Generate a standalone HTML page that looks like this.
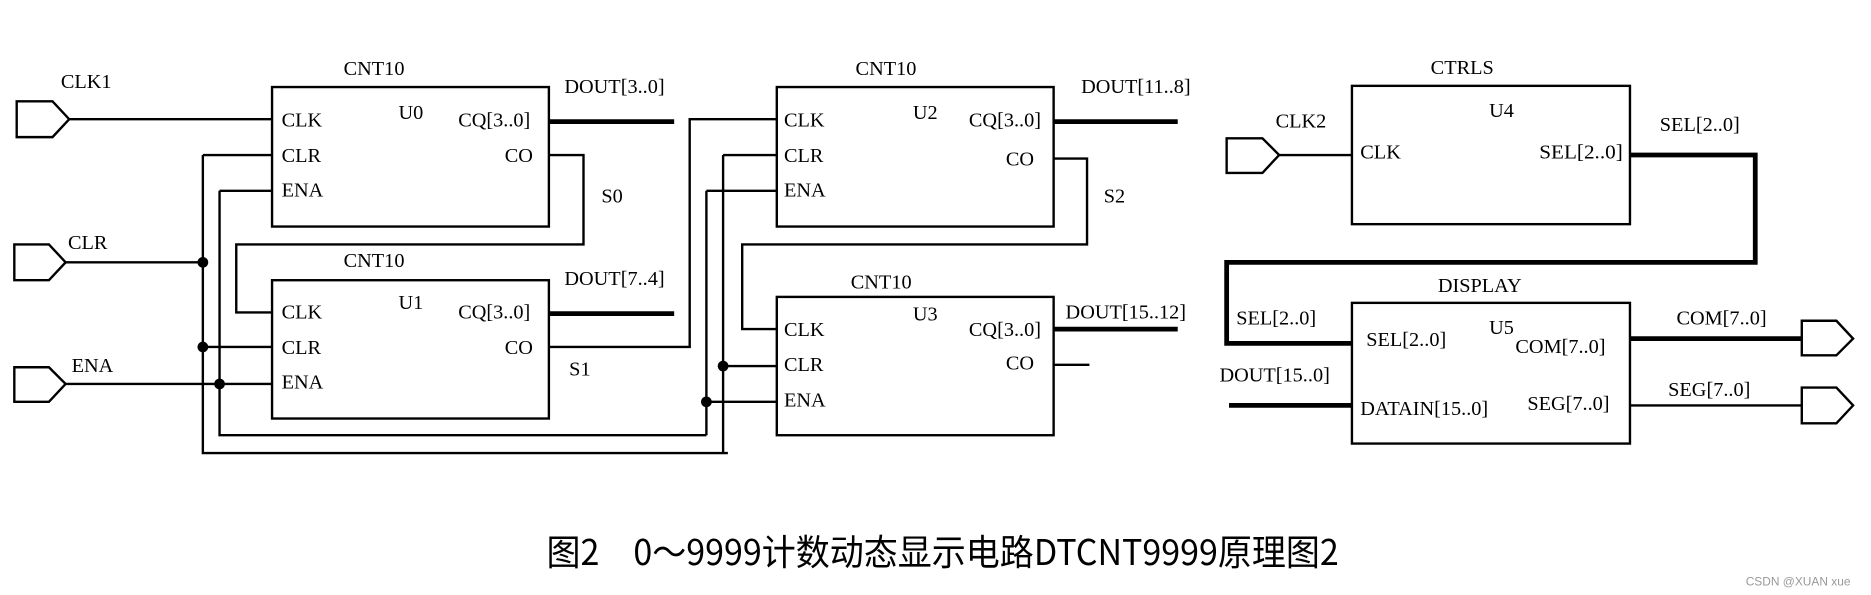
<!DOCTYPE html>
<html><head><meta charset="utf-8"><style>html,body{margin:0;padding:0;background:#fff}svg{display:block}</style></head><body>
<svg width="1871" height="595" viewBox="0 0 1568 499" preserveAspectRatio="none" xmlns="http://www.w3.org/2000/svg">
<g fill="none" stroke="#000" stroke-width="2">
<rect x="228" y="73" width="232" height="117"/>
<rect x="228" y="235" width="232" height="116"/>
<rect x="651" y="73" width="232" height="117"/>
<rect x="651" y="249" width="232" height="116"/>
<rect x="1133" y="72" width="233" height="116"/>
<rect x="1133" y="254" width="233" height="118"/>
<path d="M14 85 H44 L58 100 L44 115 H14 Z"/>
<path d="M12 205 H41 L55 220 L41 235 H12 Z"/>
<path d="M12 308 H41 L55 322 L41 337 H12 Z"/>
<path d="M1028 116 H1058 L1072 130 L1058 145 H1028 Z"/>
<path d="M1510 269 H1539 L1553 284 L1539 298 H1510 Z"/>
<path d="M1510 325 H1539 L1553 340 L1539 355 H1510 Z"/>
<path d="M58 100 H228"/>
<path d="M55 220 H170"/>
<path d="M55 322 H228"/>
<path d="M170 130 V380 H610"/>
<path d="M170 130 H228 M170 291 H228"/>
<path d="M184 160 V365 H592"/>
<path d="M184 160 H228"/>
<path d="M460 130 H489 V205 H198 V262 H228"/>
<path d="M460 291 H578 V100 H651"/>
<path d="M592 160 V365 M592 160 H651 M592 337 H651"/>
<path d="M606 130 V380 M606 130 H651 M606 307 H651"/>
<path d="M883 133 H911 V205 H622 V276 H651"/>
<path d="M883 306 H913"/>
<path d="M1072 130 H1133"/>
<path d="M1366 340 H1510"/>
</g>
<g fill="none" stroke="#000" stroke-width="4">
<path d="M460 102 H565 M460 263 H565 M883 102 H987 M883 276 H987"/>
<path d="M1366 130 H1471 V220 H1028 V288 H1133"/>
<path d="M1030 340 H1133"/>
<path d="M1366 284 H1510"/>
</g>
<g fill="#000">
<circle cx="170" cy="220" r="4.5"/><circle cx="170" cy="291" r="4.5"/><circle cx="184" cy="322" r="4.5"/>
<circle cx="592" cy="337" r="4.5"/><circle cx="606" cy="307" r="4.5"/>
</g>
<g font-family="Liberation Serif, serif" font-size="17" fill="#000">
<text x="51" y="74">CLK1</text><text x="57" y="209">CLR</text><text x="60" y="312">ENA</text>
<text x="288" y="63">CNT10</text><text x="334" y="100">U0</text>
<text x="236" y="106">CLK</text><text x="236" y="136">CLR</text><text x="236" y="165">ENA</text>
<text x="384" y="106">CQ[3..0]</text><text x="423" y="136">CO</text>
<text x="473" y="78">DOUT[3..0]</text><text x="504" y="170">S0</text>
<text x="288" y="224">CNT10</text><text x="334" y="259">U1</text>
<text x="236" y="267">CLK</text><text x="236" y="297">CLR</text><text x="236" y="326">ENA</text>
<text x="384" y="267">CQ[3..0]</text><text x="423" y="297">CO</text>
<text x="473" y="239">DOUT[7..4]</text><text x="477" y="315">S1</text>
<text x="717" y="63">CNT10</text><text x="765" y="100">U2</text>
<text x="657" y="106">CLK</text><text x="657" y="136">CLR</text><text x="657" y="165">ENA</text>
<text x="812" y="106">CQ[3..0]</text><text x="843" y="139">CO</text>
<text x="906" y="78">DOUT[11..8]</text><text x="925" y="170">S2</text>
<text x="713" y="242">CNT10</text><text x="765" y="269">U3</text>
<text x="657" y="282">CLK</text><text x="657" y="311">CLR</text><text x="657" y="341">ENA</text>
<text x="812" y="282">CQ[3..0]</text><text x="843" y="310">CO</text>
<text x="893" y="267">DOUT[15..12]</text>
<text x="1199" y="62">CTRLS</text><text x="1248" y="98">U4</text>
<text x="1069" y="107">CLK2</text>
<text x="1140" y="133">CLK</text><text x="1290" y="133" textLength="70" lengthAdjust="spacingAndGlyphs">SEL[2..0]</text>
<text x="1391" y="110">SEL[2..0]</text>
<text x="1205" y="245">DISPLAY</text>
<text x="1036" y="272">SEL[2..0]</text>
<text x="1145" y="290">SEL[2..0]</text><text x="1248" y="280">U5</text><text x="1270" y="296">COM[7..0]</text>
<text x="1022" y="320">DOUT[15..0]</text>
<text x="1140" y="348">DATAIN[15..0]</text><text x="1280" y="344">SEG[7..0]</text>
<text x="1405" y="272">COM[7..0]</text><text x="1398" y="332">SEG[7..0]</text>
</g>
<text x="458" y="474" font-family="'Noto Sans CJK SC', sans-serif" font-size="30" textLength="664" lengthAdjust="spacingAndGlyphs" fill="#000">图2　0～9999计数动态显示电路DTCNT9999原理图2</text>
<text x="1463" y="491" font-family="Liberation Sans, sans-serif" font-size="10" fill="#999">CSDN @XUAN xue</text>
</svg>
</body></html>
